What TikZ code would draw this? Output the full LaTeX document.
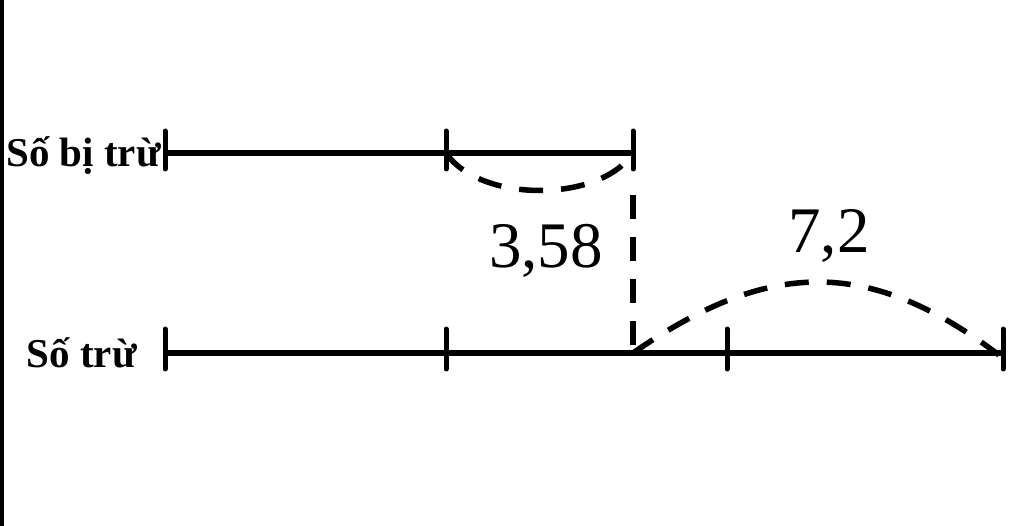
\documentclass[tikz,border=0pt]{standalone}
\usepackage{fontspec}
\setmainfont{Liberation Serif}
\begin{document}
\begin{tikzpicture}[x=1pt,y=-1pt,
  seg/.style={line width=5.5pt},
  tick/.style={line width=5pt,line cap=round},
  dsh/.style={line width=5.5pt,dash pattern=on 24pt off 18pt},
  lbl/.style={font=\bfseries\fontsize{41}{46}\selectfont,inner sep=0pt},
  num/.style={font=\fontsize{65}{70}\selectfont,inner sep=0pt}]
\useasboundingbox (0,0) rectangle (1024,526);
\fill[white] (0,0) rectangle (1024,526);
\fill[black] (0,0) rectangle (4,526);
% top line
\coordinate (a0) at (165,153);
\coordinate (a1) at (446,153);
\coordinate (a2) at (633,153);
% bottom line
\coordinate (b0) at (165,353);
\coordinate (b1) at (446,353);
\coordinate (b2) at (633,353);
\coordinate (b3) at (727,353);
\coordinate (b4) at (1003,353);
\draw[seg] (a0) -- (a2);
\draw[seg] (b0) -- (b4);
\foreach \p in {a0,a1,a2} \draw[tick] ([yshift=-16pt]\p) -- ([yshift=22pt]\p);
\foreach \p in {b0,b1,b3,b4} \draw[tick] ([yshift=-16pt]\p) -- ([yshift=24pt]\p);
% dashed curves
\draw[dsh] (a1) .. controls (480,203) and (600,203) .. (a2);
\coordinate (v0) at (633,195);
\draw[dsh] (v0) -- (b2);
\draw[dsh] (b2) .. controls (770,258) and (870,258) .. ([xshift=-4pt,yshift=-2pt]b4);
% labels
\node[lbl,anchor=base east] (lt) at (161,167) {Số bị trừ};
\node[lbl,anchor=base east] (lb) at (137,367) {Số trừ};
\node[num,anchor=base] (n1) at (546,268) {3,58};
\node[num,anchor=base] (n2) at (829,253) {7,2};
\end{tikzpicture}
\end{document}
